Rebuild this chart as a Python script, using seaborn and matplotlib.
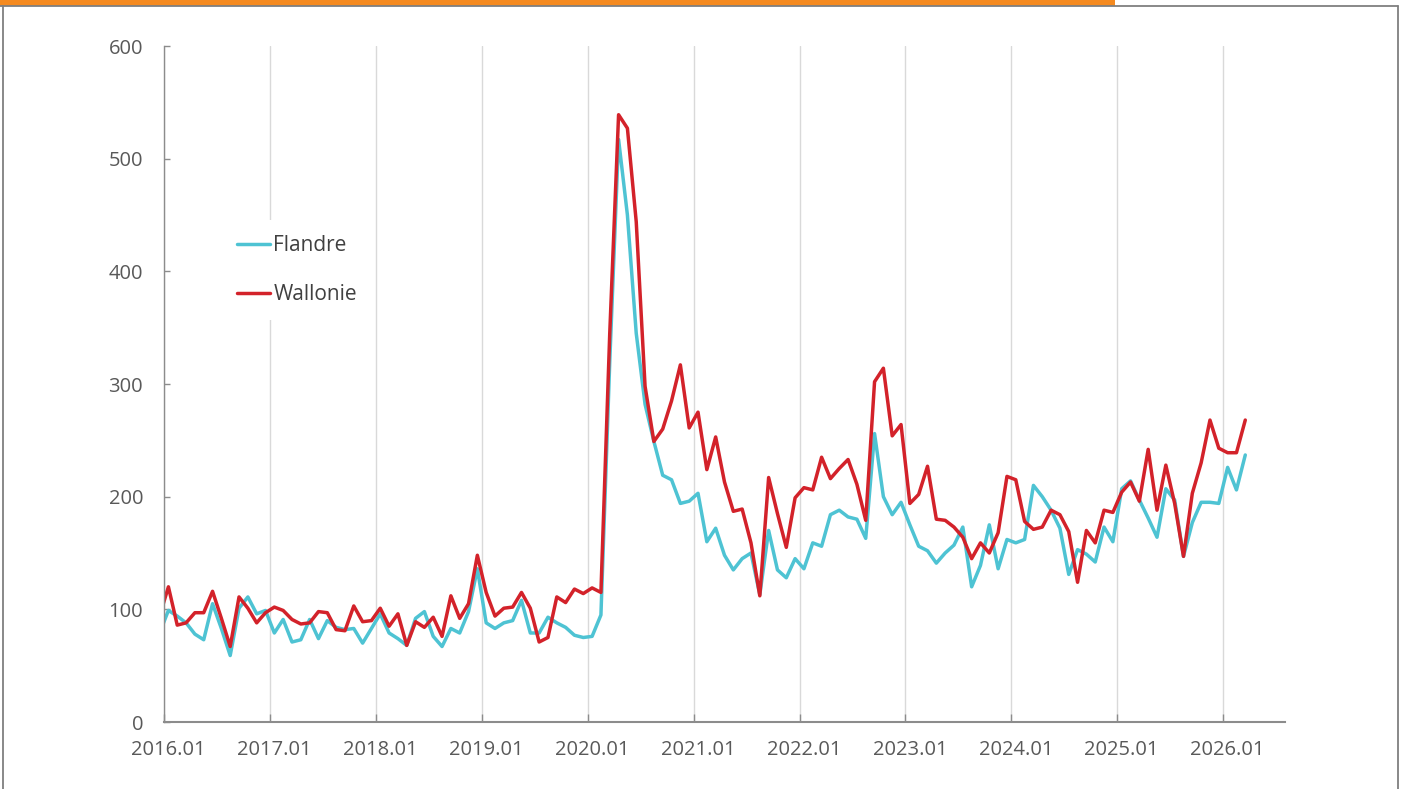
import numpy as np
import pandas as pd
import matplotlib
matplotlib.use("Agg")
import matplotlib.pyplot as plt
import seaborn as sns
from matplotlib.patches import Rectangle
from matplotlib.lines import Line2D

# ---------------- data (monthly, 2015.12 .. 2026.03) ----------------
months = list(pd.period_range("2015-12", "2026-03", freq="M").strftime("%Y.%m"))

flandre = [79, 99, 94, 88, 78, 73, 105, 83, 59, 101, 111, 96, 99,
           79, 91, 71, 73, 91, 74, 90, 84, 82, 83, 70, 83,
           96, 79, 74, 68, 92, 98, 76, 67, 83, 79, 98, 136,
           88, 83, 88, 90, 108, 79, 79, 93, 88, 84, 77, 75,
           76, 95, 320, 517, 450, 345, 282, 249, 219, 215, 194, 196,
           203, 160, 172, 148, 135, 145, 150, 113, 170, 135, 128, 145,
           136, 159, 156, 184, 188, 182, 180, 163, 256, 200, 184, 195,
           175, 156, 152, 141, 150, 157, 173, 120, 139, 175, 136, 162,
           159, 162, 210, 200, 188, 172, 131, 153, 149, 142, 173, 160,
           207, 214, 197, 181, 164, 207, 197, 147, 177, 195, 195, 194,
           226, 206, 237]

wallonie = [94, 120, 86, 88, 97, 97, 116, 92, 67, 111, 101, 88, 97,
            102, 99, 91, 87, 88, 98, 97, 82, 81, 103, 89, 90,
            101, 85, 96, 68, 89, 84, 93, 76, 112, 92, 105, 148,
            115, 94, 101, 102, 115, 101, 71, 75, 111, 106, 118, 114,
            119, 115, 345, 539, 527, 444, 298, 249, 260, 285, 317, 261,
            275, 224, 253, 213, 187, 189, 159, 112, 217, 185, 155, 199,
            208, 206, 235, 216, 225, 233, 211, 179, 302, 314, 254, 264,
            194, 202, 227, 180, 179, 173, 164, 145, 159, 150, 168, 218,
            215, 178, 171, 173, 188, 184, 169, 124, 170, 159, 188, 186,
            204, 213, 196, 242, 188, 228, 194, 147, 203, 230, 268, 243,
            239, 239, 268]

series_names = ["Flandre", "Wallonie"]
year_labels = [f"{y}.01" for y in range(2016, 2027)]
y_ticks = [0, 100, 200, 300, 400, 500, 600]
palette = {"Flandre": "#4EC3D3", "Wallonie": "#D3222A"}

n = len(months)
df = pd.DataFrame({
    "mois": months * 2,
    "valeur": flandre + wallonie,
    "Région": [series_names[0]] * n + [series_names[1]] * n,
})
# category centred in its month (first category 2015.12 lies left of the axis)
df["x"] = df.groupby("Région").cumcount() - 0.5

# ---------------- drawing ----------------
sns.set_theme(style="white")
plt.rcParams["font.family"] = ["Open Sans", "DejaVu Sans"]

W, H = 1403, 789
fig = plt.figure(figsize=(W / 100, H / 100), dpi=100)
fig.patch.set_facecolor("white")

left, right, top, bottom = 164, 1285, 46, 722
ax = fig.add_axes([left / W, 1 - bottom / H, (right - left) / W, (bottom - top) / H])

sns.lineplot(data=df, x="x", y="valeur", hue="Région", hue_order=series_names,
             palette=palette, linewidth=2.5, errorbar=None, ax=ax)

ax.set_xlim(0, 127)
ax.set_ylim(0, 600)
ax.set_xlabel("")
ax.set_ylabel("")

# year ticks / grid at start of January, labels centred on the January category
major = np.arange(0, 121, 12)
ax.set_xticks(major)
ax.set_xticklabels([])
ax.set_xticks(major + 0.5, minor=True)
ax.set_xticklabels(year_labels, minor=True)
ax.tick_params(axis="x", which="major", direction="in", length=6, width=1,
               color="#8c8c8c", bottom=True)
ax.tick_params(axis="x", which="minor", length=0, pad=13, labelsize=14.5,
               labelcolor="#595959", bottom=True)
ax.xaxis.grid(True, which="major", color="#d9d9d9", linewidth=1)
ax.yaxis.grid(False)

ax.set_yticks(y_ticks)
ax.set_yticklabels([str(v) for v in y_ticks])
ax.tick_params(axis="y", direction="in", length=4, width=1, color="#8c8c8c",
               pad=15, labelsize=14.5, labelcolor="#595959", left=True)

for s in ("top", "right"):
    ax.spines[s].set_visible(False)
ax.spines["left"].set_color("#8c8c8c")
ax.spines["left"].set_linewidth(1)
ax.spines["bottom"].set_color("#8c8c8c")
ax.spines["bottom"].set_linewidth(1.5)

leg = ax.legend(title=None, loc="upper left", bbox_to_anchor=(0.0517, 0.7426),
                borderaxespad=0, frameon=True, facecolor="white",
                edgecolor="none", framealpha=1, fontsize=15,
                handlelength=1.6, handletextpad=0.15, labelspacing=1.36,
                borderpad=0.72)
for t in leg.get_texts():
    t.set_color("#404040")
for h in leg.get_lines():
    h.set_linewidth(2.5)

# ---------------- decorative frame ----------------
gray = "#7f7f7f"
fig.add_artist(Line2D([3 / W, 3 / W], [1 - 5.5 / H, 0], transform=fig.transFigure,
                      color=gray, linewidth=1.3))
fig.add_artist(Line2D([1398 / W, 1398 / W], [1 - 5.5 / H, 0], transform=fig.transFigure,
                      color=gray, linewidth=1.3))
fig.add_artist(Line2D([0, 1398 / W], [1 - 5.5 / H, 1 - 5.5 / H], transform=fig.transFigure,
                      color=gray, linewidth=1.3))
fig.add_artist(Rectangle((0, 1 - 5.5 / H), 1115 / W, 5.5 / H, transform=fig.transFigure,
                         facecolor="#F58A1F", edgecolor="none"))

fig.savefig("out.png", dpi=100)
